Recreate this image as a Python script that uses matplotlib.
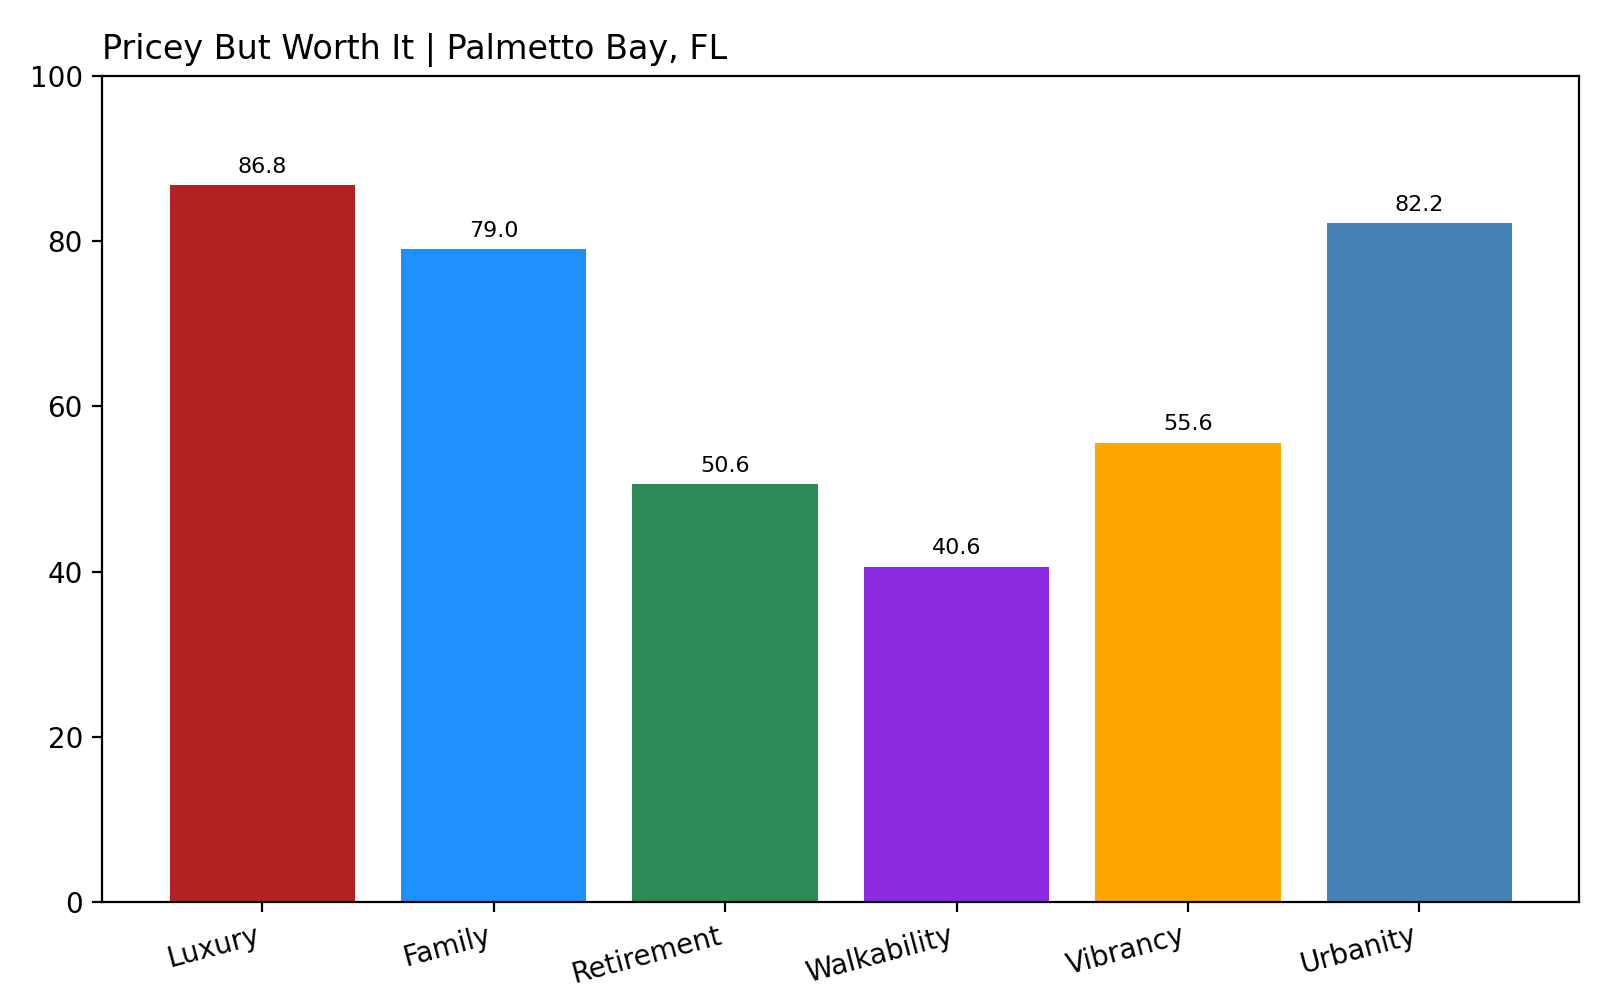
import matplotlib
matplotlib.use("Agg")
import matplotlib.pyplot as plt

categories = ["Luxury", "Family", "Retirement", "Walkability", "Vibrancy", "Urbanity"]
scores = [86.8, 79.0, 50.6, 40.6, 55.6, 82.2]
bar_colors = ["firebrick", "dodgerblue", "seagreen", "blueviolet", "orange", "steelblue"]

fig, ax = plt.subplots(figsize=(8, 5), dpi=200)
fig.subplots_adjust(left=0.064, right=0.987, top=0.924, bottom=0.098)

bars = ax.bar(categories, scores, color=bar_colors)
for b, v in zip(bars, scores):
    ax.annotate(f"{v:.1f}", (b.get_x() + b.get_width() / 2, v),
                xytext=(0, 3), textcoords="offset points",
                ha="center", va="bottom", fontsize=8)

ax.set_ylim(0, 100)
ax.set_title("Pricey But Worth It | Palmetto Bay, FL", loc="left")
plt.setp(ax.get_xticklabels(), rotation=15, ha="right")

fig.savefig("out.png", dpi=200, facecolor="white")
